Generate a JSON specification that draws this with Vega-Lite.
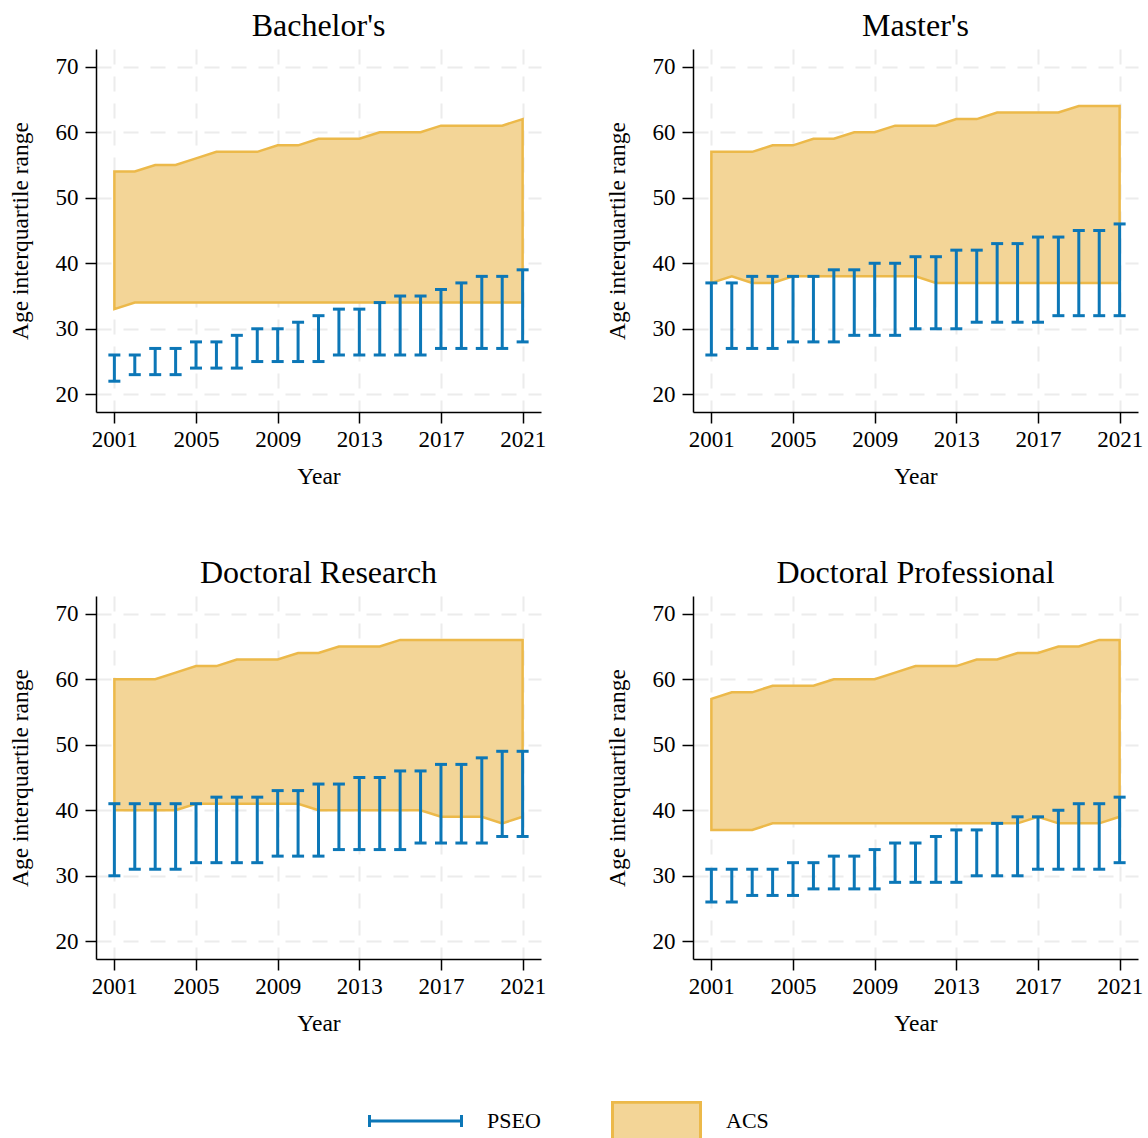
{
  "$schema": "https://vega.github.io/schema/vega-lite/v6.json",
  "padding": {"left": 8, "top": 10, "right": 0, "bottom": 0},
  "config": {
    "font": "Liberation Serif",
    "view": {"stroke": null},
    "axis": {
      "domainColor": "black", "domainWidth": 1.5,
      "tickColor": "black", "tickWidth": 1.5, "tickSize": 11,
      "labelFont": "Liberation Serif", "labelFontSize": 23, "labelColor": "black",
      "titleFont": "Liberation Serif", "titleFontSize": 23.5, "titleFontWeight": "normal", "titleColor": "black",
      "gridColor": "#ececec", "gridWidth": 2, "gridDash": [15, 12]
    },
    "legend": {"labelFont": "Liberation Serif"}
  },
  "data": {"values": [
    {"degree": "Bachelor's", "year": 2001, "pl": 22, "ph": 26, "al": 33, "ah": 54},
    {"degree": "Bachelor's", "year": 2002, "pl": 23, "ph": 26, "al": 34, "ah": 54},
    {"degree": "Bachelor's", "year": 2003, "pl": 23, "ph": 27, "al": 34, "ah": 55},
    {"degree": "Bachelor's", "year": 2004, "pl": 23, "ph": 27, "al": 34, "ah": 55},
    {"degree": "Bachelor's", "year": 2005, "pl": 24, "ph": 28, "al": 34, "ah": 56},
    {"degree": "Bachelor's", "year": 2006, "pl": 24, "ph": 28, "al": 34, "ah": 57},
    {"degree": "Bachelor's", "year": 2007, "pl": 24, "ph": 29, "al": 34, "ah": 57},
    {"degree": "Bachelor's", "year": 2008, "pl": 25, "ph": 30, "al": 34, "ah": 57},
    {"degree": "Bachelor's", "year": 2009, "pl": 25, "ph": 30, "al": 34, "ah": 58},
    {"degree": "Bachelor's", "year": 2010, "pl": 25, "ph": 31, "al": 34, "ah": 58},
    {"degree": "Bachelor's", "year": 2011, "pl": 25, "ph": 32, "al": 34, "ah": 59},
    {"degree": "Bachelor's", "year": 2012, "pl": 26, "ph": 33, "al": 34, "ah": 59},
    {"degree": "Bachelor's", "year": 2013, "pl": 26, "ph": 33, "al": 34, "ah": 59},
    {"degree": "Bachelor's", "year": 2014, "pl": 26, "ph": 34, "al": 34, "ah": 60},
    {"degree": "Bachelor's", "year": 2015, "pl": 26, "ph": 35, "al": 34, "ah": 60},
    {"degree": "Bachelor's", "year": 2016, "pl": 26, "ph": 35, "al": 34, "ah": 60},
    {"degree": "Bachelor's", "year": 2017, "pl": 27, "ph": 36, "al": 34, "ah": 61},
    {"degree": "Bachelor's", "year": 2018, "pl": 27, "ph": 37, "al": 34, "ah": 61},
    {"degree": "Bachelor's", "year": 2019, "pl": 27, "ph": 38, "al": 34, "ah": 61},
    {"degree": "Bachelor's", "year": 2020, "pl": 27, "ph": 38, "al": 34, "ah": 61},
    {"degree": "Bachelor's", "year": 2021, "pl": 28, "ph": 39, "al": 34, "ah": 62},
    {"degree": "Master's", "year": 2001, "pl": 26, "ph": 37, "al": 37, "ah": 57},
    {"degree": "Master's", "year": 2002, "pl": 27, "ph": 37, "al": 38, "ah": 57},
    {"degree": "Master's", "year": 2003, "pl": 27, "ph": 38, "al": 37, "ah": 57},
    {"degree": "Master's", "year": 2004, "pl": 27, "ph": 38, "al": 37, "ah": 58},
    {"degree": "Master's", "year": 2005, "pl": 28, "ph": 38, "al": 38, "ah": 58},
    {"degree": "Master's", "year": 2006, "pl": 28, "ph": 38, "al": 38, "ah": 59},
    {"degree": "Master's", "year": 2007, "pl": 28, "ph": 39, "al": 38, "ah": 59},
    {"degree": "Master's", "year": 2008, "pl": 29, "ph": 39, "al": 38, "ah": 60},
    {"degree": "Master's", "year": 2009, "pl": 29, "ph": 40, "al": 38, "ah": 60},
    {"degree": "Master's", "year": 2010, "pl": 29, "ph": 40, "al": 38, "ah": 61},
    {"degree": "Master's", "year": 2011, "pl": 30, "ph": 41, "al": 38, "ah": 61},
    {"degree": "Master's", "year": 2012, "pl": 30, "ph": 41, "al": 37, "ah": 61},
    {"degree": "Master's", "year": 2013, "pl": 30, "ph": 42, "al": 37, "ah": 62},
    {"degree": "Master's", "year": 2014, "pl": 31, "ph": 42, "al": 37, "ah": 62},
    {"degree": "Master's", "year": 2015, "pl": 31, "ph": 43, "al": 37, "ah": 63},
    {"degree": "Master's", "year": 2016, "pl": 31, "ph": 43, "al": 37, "ah": 63},
    {"degree": "Master's", "year": 2017, "pl": 31, "ph": 44, "al": 37, "ah": 63},
    {"degree": "Master's", "year": 2018, "pl": 32, "ph": 44, "al": 37, "ah": 63},
    {"degree": "Master's", "year": 2019, "pl": 32, "ph": 45, "al": 37, "ah": 64},
    {"degree": "Master's", "year": 2020, "pl": 32, "ph": 45, "al": 37, "ah": 64},
    {"degree": "Master's", "year": 2021, "pl": 32, "ph": 46, "al": 37, "ah": 64},
    {"degree": "Doctoral Research", "year": 2001, "pl": 30, "ph": 41, "al": 40, "ah": 60},
    {"degree": "Doctoral Research", "year": 2002, "pl": 31, "ph": 41, "al": 40, "ah": 60},
    {"degree": "Doctoral Research", "year": 2003, "pl": 31, "ph": 41, "al": 40, "ah": 60},
    {"degree": "Doctoral Research", "year": 2004, "pl": 31, "ph": 41, "al": 40, "ah": 61},
    {"degree": "Doctoral Research", "year": 2005, "pl": 32, "ph": 41, "al": 41, "ah": 62},
    {"degree": "Doctoral Research", "year": 2006, "pl": 32, "ph": 42, "al": 41, "ah": 62},
    {"degree": "Doctoral Research", "year": 2007, "pl": 32, "ph": 42, "al": 41, "ah": 63},
    {"degree": "Doctoral Research", "year": 2008, "pl": 32, "ph": 42, "al": 41, "ah": 63},
    {"degree": "Doctoral Research", "year": 2009, "pl": 33, "ph": 43, "al": 41, "ah": 63},
    {"degree": "Doctoral Research", "year": 2010, "pl": 33, "ph": 43, "al": 41, "ah": 64},
    {"degree": "Doctoral Research", "year": 2011, "pl": 33, "ph": 44, "al": 40, "ah": 64},
    {"degree": "Doctoral Research", "year": 2012, "pl": 34, "ph": 44, "al": 40, "ah": 65},
    {"degree": "Doctoral Research", "year": 2013, "pl": 34, "ph": 45, "al": 40, "ah": 65},
    {"degree": "Doctoral Research", "year": 2014, "pl": 34, "ph": 45, "al": 40, "ah": 65},
    {"degree": "Doctoral Research", "year": 2015, "pl": 34, "ph": 46, "al": 40, "ah": 66},
    {"degree": "Doctoral Research", "year": 2016, "pl": 35, "ph": 46, "al": 40, "ah": 66},
    {"degree": "Doctoral Research", "year": 2017, "pl": 35, "ph": 47, "al": 39, "ah": 66},
    {"degree": "Doctoral Research", "year": 2018, "pl": 35, "ph": 47, "al": 39, "ah": 66},
    {"degree": "Doctoral Research", "year": 2019, "pl": 35, "ph": 48, "al": 39, "ah": 66},
    {"degree": "Doctoral Research", "year": 2020, "pl": 36, "ph": 49, "al": 38, "ah": 66},
    {"degree": "Doctoral Research", "year": 2021, "pl": 36, "ph": 49, "al": 39, "ah": 66},
    {"degree": "Doctoral Professional", "year": 2001, "pl": 26, "ph": 31, "al": 37, "ah": 57},
    {"degree": "Doctoral Professional", "year": 2002, "pl": 26, "ph": 31, "al": 37, "ah": 58},
    {"degree": "Doctoral Professional", "year": 2003, "pl": 27, "ph": 31, "al": 37, "ah": 58},
    {"degree": "Doctoral Professional", "year": 2004, "pl": 27, "ph": 31, "al": 38, "ah": 59},
    {"degree": "Doctoral Professional", "year": 2005, "pl": 27, "ph": 32, "al": 38, "ah": 59},
    {"degree": "Doctoral Professional", "year": 2006, "pl": 28, "ph": 32, "al": 38, "ah": 59},
    {"degree": "Doctoral Professional", "year": 2007, "pl": 28, "ph": 33, "al": 38, "ah": 60},
    {"degree": "Doctoral Professional", "year": 2008, "pl": 28, "ph": 33, "al": 38, "ah": 60},
    {"degree": "Doctoral Professional", "year": 2009, "pl": 28, "ph": 34, "al": 38, "ah": 60},
    {"degree": "Doctoral Professional", "year": 2010, "pl": 29, "ph": 35, "al": 38, "ah": 61},
    {"degree": "Doctoral Professional", "year": 2011, "pl": 29, "ph": 35, "al": 38, "ah": 62},
    {"degree": "Doctoral Professional", "year": 2012, "pl": 29, "ph": 36, "al": 38, "ah": 62},
    {"degree": "Doctoral Professional", "year": 2013, "pl": 29, "ph": 37, "al": 38, "ah": 62},
    {"degree": "Doctoral Professional", "year": 2014, "pl": 30, "ph": 37, "al": 38, "ah": 63},
    {"degree": "Doctoral Professional", "year": 2015, "pl": 30, "ph": 38, "al": 38, "ah": 63},
    {"degree": "Doctoral Professional", "year": 2016, "pl": 30, "ph": 39, "al": 38, "ah": 64},
    {"degree": "Doctoral Professional", "year": 2017, "pl": 31, "ph": 39, "al": 39, "ah": 64},
    {"degree": "Doctoral Professional", "year": 2018, "pl": 31, "ph": 40, "al": 38, "ah": 65},
    {"degree": "Doctoral Professional", "year": 2019, "pl": 31, "ph": 41, "al": 38, "ah": 65},
    {"degree": "Doctoral Professional", "year": 2020, "pl": 31, "ph": 41, "al": 38, "ah": 66},
    {"degree": "Doctoral Professional", "year": 2021, "pl": 32, "ph": 42, "al": 39, "ah": 66}
  ]},
  "facet": {
    "field": "degree", "type": "nominal",
    "sort": ["Bachelor's", "Master's", "Doctoral Research", "Doctoral Professional"],
    "title": null,
    "header": {"labelFont": "Liberation Serif", "labelFontSize": 32, "labelColor": "black", "labelPadding": 6}
  },
  "columns": 2,
  "spacing": {"column": 59, "row": 69},
  "resolve": {"axis": {"x": "independent", "y": "independent"}},
  "spec": {
    "width": 445,
    "height": 363,
    "layer": [
      {
        "mark": {"type": "area", "stroke": "#ecb94a", "strokeWidth": 2.5, "opacity": 1},
        "encoding": {
          "x": {"field": "year", "type": "quantitative", "title": "Year",
                "scale": {"domain": [2000.1, 2021.9], "nice": false, "zero": false},
                "axis": {"values": [2001, 2005, 2009, 2013, 2017, 2021], "format": "d", "labelFlush": false, "labelOverlap": false, "labelPadding": 5, "titlePadding": 13}},
          "y": {"field": "al", "type": "quantitative", "title": "Age interquartile range",
                "scale": {"domain": [17.3, 72.7], "nice": false, "zero": false},
                "axis": {"values": [20, 30, 40, 50, 60, 70], "labelPadding": 7, "titlePadding": 23}},
          "y2": {"field": "ah"},
          "fill": {
            "datum": "ACS",
            "scale": {"domain": ["ACS"], "range": ["#f3d597"]},
            "legend": {
              "title": null, "orient": "none", "legendX": 513, "legendY": 1052,
              "direction": "horizontal", "padding": 0,
              "symbolType": "M-0.957,-0.41H0.957V0.41H-0.957Z",
              "symbolSize": 8464, "clipHeight": 40, "symbolStrokeWidth": 3,
              "symbolStrokeColor": "#ecb94a", "symbolOpacity": 1,
              "labelFontSize": 22, "labelColor": "black", "labelOffset": 22
            }
          }
        }
      },
      {
        "mark": {"type": "errorbar", "ticks": {"size": 12, "thickness": 3, "opacity": 1}, "rule": {"strokeWidth": 3, "opacity": 1}},
        "encoding": {
          "x": {"field": "year", "type": "quantitative"},
          "y": {"field": "pl", "type": "quantitative", "title": "Age interquartile range"},
          "y2": {"field": "ph"},
          "color": {
            "datum": "PSEO",
            "scale": {"domain": ["PSEO"], "range": ["#0c77b7"]},
            "legend": {
              "title": null, "orient": "none", "legendX": 272, "legendY": 1052,
              "direction": "horizontal", "padding": 0,
              "symbolType": "M-1,0H1M-1,-0.13V0.13M1,-0.13V0.13",
              "symbolSize": 8464, "clipHeight": 40, "symbolStrokeWidth": 3,
              "symbolFillColor": "transparent", "symbolOpacity": 1,
              "labelFontSize": 22, "labelColor": "black", "labelOffset": 24
            }
          }
        }
      }
    ]
  }
}
